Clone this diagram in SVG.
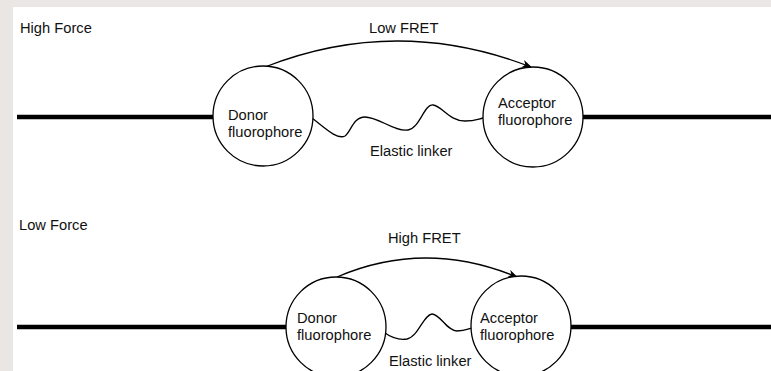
<svg xmlns="http://www.w3.org/2000/svg" width="771" height="371" viewBox="0 0 771 371">
<style>
.t{font-family:"Liberation Sans",Arial,sans-serif;font-size:14.7px;fill:#111}
.node{fill:#fff;stroke:#000;stroke-width:1.3}
.rod{stroke:#000;stroke-width:4.5;fill:none}
.wire{stroke:#000;stroke-width:1.3;fill:none}
</style>
<defs>
<marker id="arr" markerUnits="userSpaceOnUse" viewBox="0 0 10 8" refX="9" refY="4" markerWidth="10" markerHeight="8" orient="auto">
<path d="M0,0 L10,4 L0,8 L3,4 z" fill="#000"/>
</marker>
</defs>
<rect x="0" y="0" width="771" height="371" fill="#e9e6e3"/>
<rect x="13" y="7" width="758" height="364" fill="#fff"/>

<g id="labels">
<text class="t" x="20" y="33">High Force</text>
<text class="t" x="19" y="230">Low Force</text>
</g>

<g id="connectors">
<line class="rod" x1="17" y1="117" x2="213" y2="117"/>
<line class="rod" x1="583" y1="117" x2="771" y2="117"/>
<line class="rod" x1="17" y1="327" x2="286" y2="327"/>
<line class="rod" x1="571" y1="327" x2="771" y2="327"/>
<path class="wire" d="M265,67 Q397,15 531,67" marker-end="url(#arr)"/>
<path class="wire" d="M337,277 Q425,239 517,277" marker-end="url(#arr)"/>
<path class="wire" d="M312,118 C325,128 337,140 345,136 C351,132 353,117 365,117 C378,117 395,132 408,130 C420,128 424,104 433,105 C442,106 449,121 465,121 C475,121 478,119 483,118"/>
<path class="wire" d="M385,333 C392,338 400,340 407,339 C418,337 424,314 432,314 C440,314 447,331 457,331 C465,331 468,329 472,328"/>
<text class="t" x="369" y="33">Low FRET</text>
<text class="t" x="370" y="156">Elastic linker</text>
<text class="t" x="388" y="243">High FRET</text>
<text class="t" x="389" y="366">Elastic linker</text>
</g>

<g id="donor-high">
<circle class="node" cx="263" cy="116" r="50"/>
<text class="t" x="228" y="120">Donor</text>
<text class="t" x="228" y="137">fluorophore</text>
</g>
<g id="acceptor-high">
<circle class="node" cx="533" cy="117" r="50"/>
<text class="t" x="498" y="108">Acceptor</text>
<text class="t" x="498" y="125">fluorophore</text>
</g>
<g id="donor-low">
<circle class="node" cx="336" cy="327" r="50"/>
<text class="t" x="297" y="323">Donor</text>
<text class="t" x="297" y="340">fluorophore</text>
</g>
<g id="acceptor-low">
<circle class="node" cx="521" cy="326" r="50"/>
<text class="t" x="480" y="323">Acceptor</text>
<text class="t" x="480" y="340">fluorophore</text>
</g>
</svg>
